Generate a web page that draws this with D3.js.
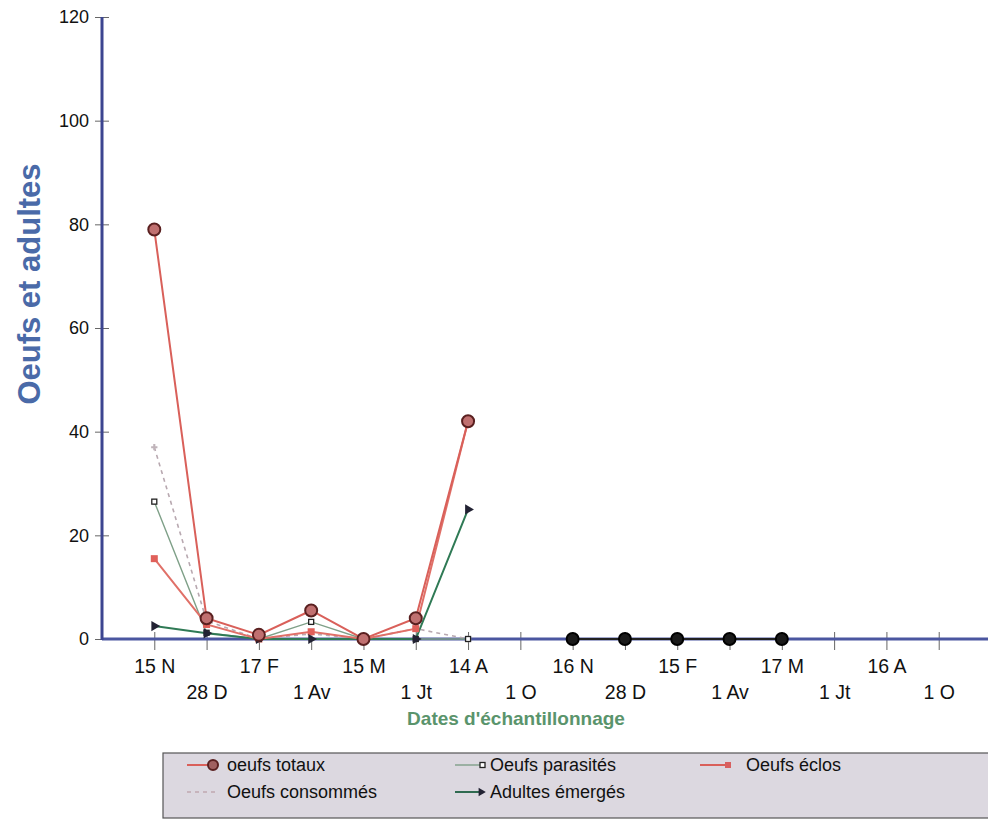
<!DOCTYPE html>
<html><head><meta charset="utf-8">
<script src="https://cdn.jsdelivr.net/npm/d3@7"></script>
<style>body{margin:0;background:#fff}svg{display:block;font-family:"Liberation Sans",Arial,sans-serif}</style>
</head><body><svg id="c" width="988" height="820"></svg>
<script>
const categories = ["15 N","28 D","17 F","1 Av","15 M","1 Jt","14 A","1 O","16 N","28 D","15 F","1 Av","17 M","1 Jt","16 A","1 O"];
const yTicks = [0,20,40,60,80,100,120];
const oeufsTotaux   = [79, 4, 0.8, 5.5, 0, 4, 42, null, 0, 0, 0, 0, 0, null, null, null];
const oeufsParasites = [26.5, 1.2, 0, 3.3, 0, 0, 0, null, null, null, null, null, null, null, null, null];
const oeufsEclos    = [15.5, 2.8, 0, 1.4, 0, 2, 42, null, null, null, null, null, null, null, null, null];
const oeufsConsommes = [37, 3.5, 0, 1, 0, 2, 0, null, null, null, null, null, null, null, null, null];
const adultesEmerges = [2.5, 1.1, 0, 0, 0, 0, 25, null, null, null, null, null, null, null, null, null];

const svg = d3.select("#c");
const x = d3.scalePoint().domain(d3.range(categories.length)).range([102, 991]).padding(1);
const y = d3.scaleLinear().domain([0,120]).range([639,17]);

// Y axis
const yAxis = svg.append("g").attr("transform","translate(102,0)")
  .call(d3.axisLeft(y).tickValues(yTicks).tickSize(7).tickPadding(4));
yAxis.select(".domain").remove();
yAxis.selectAll(".tick line").attr("x2",7).attr("x1",-7).attr("stroke","#666");
yAxis.selectAll(".tick text").attr("font-size",18).attr("fill","#111").attr("dx",-2);

// X axis
const xAxis = svg.append("g").attr("transform","translate(0,639)")
  .call(d3.axisBottom(x).tickSize(0).tickFormat(i=>categories[i]));
xAxis.select(".domain").remove();
xAxis.selectAll(".tick line").remove();
xAxis.selectAll(".tick").append("line").attr("y1",-7).attr("y2",11).attr("stroke","#666");
xAxis.selectAll(".tick text").attr("font-size",19.5).attr("fill","#111")
  .attr("y",(i)=> i%2===0 ? 20 : 46).attr("dy","0.71em");

svg.append("line").attr("x1",102).attr("x2",988).attr("y1",639).attr("y2",639)
  .attr("stroke","#4b56a0").attr("stroke-width",3);
svg.append("line").attr("x1",102).attr("x2",102).attr("y1",17).attr("y2",640)
  .attr("stroke","#3c4590").attr("stroke-width",3);

// Titles
svg.append("text").attr("transform","translate(40,284) rotate(-90)")
  .attr("text-anchor","middle").attr("font-size",31).attr("font-weight","bold")
  .attr("fill","#4a6aa8").text("Oeufs et adultes");
svg.append("text").attr("x",516).attr("y",725).attr("text-anchor","middle")
  .attr("font-size",19).attr("font-weight","bold").attr("fill","#5a946c")
  .text("Dates d'échantillonnage");

const line = d3.line().defined(d=>d.v!==null).x(d=>x(d.i)).y(d=>y(d.v));
const pts = arr => arr.map((v,i)=>({i,v}));
const g = svg.append("g");

// Oeufs consommés
g.append("path").attr("d",line(pts(oeufsConsommes))).attr("fill","none")
  .attr("stroke","#b8a8b0").attr("stroke-width",1.6).attr("stroke-dasharray","4,4");
// Oeufs parasités
g.append("path").attr("d",line(pts(oeufsParasites))).attr("fill","none")
  .attr("stroke","#7fa088").attr("stroke-width",1.4);
// Adultes émergés
g.append("path").attr("d",line(pts(adultesEmerges))).attr("fill","none")
  .attr("stroke","#2f7a55").attr("stroke-width",2);
// Oeufs éclos
g.append("path").attr("d",line(pts(oeufsEclos))).attr("fill","none")
  .attr("stroke","#e07068").attr("stroke-width",2);
// Oeufs totaux
const tot = pts(oeufsTotaux);
g.append("path").attr("d",line(tot.filter(d=>d.i<8))).attr("fill","none")
  .attr("stroke","#d9605a").attr("stroke-width",2);
g.append("path").attr("d",line(tot.filter(d=>d.i>=8))).attr("fill","none")
  .attr("stroke","#222").attr("stroke-width",2);

// markers
const def = arr => pts(arr).filter(d=>d.v!==null);
g.selectAll(".cons").data(def(oeufsConsommes)).enter().append("path")
  .attr("transform",d=>`translate(${x(d.i)},${y(d.v)})`)
  .attr("d",d3.symbol(d3.symbolCross,22)()).attr("fill","#c0b4ba");
g.selectAll(".ecl").data(def(oeufsEclos)).enter().append("rect")
  .attr("x",d=>x(d.i)-3.5).attr("y",d=>y(d.v)-3.5).attr("width",7).attr("height",7)
  .attr("fill","#e0605a");
g.selectAll(".par").data(def(oeufsParasites)).enter().append("rect")
  .attr("x",d=>x(d.i)-2.5).attr("y",d=>y(d.v)-2.5).attr("width",5).attr("height",5)
  .attr("fill","#fff").attr("stroke","#222").attr("stroke-width",1.3);
g.selectAll(".adu").data(def(adultesEmerges)).enter().append("path")
  .attr("transform",d=>`translate(${x(d.i)},${y(d.v)}) rotate(90)`)
  .attr("d",d3.symbol(d3.symbolTriangle,45)()).attr("fill","#223");
g.selectAll(".tot").data(def(oeufsTotaux)).enter().append("circle")
  .attr("cx",d=>x(d.i)).attr("cy",d=>y(d.v)).attr("r",6)
  .attr("fill",d=>d.i<8?"#c07070":"#1a1a1a").attr("stroke",d=>d.i<8?"#5a2020":"#000").attr("stroke-width",2);

// Legend
const lg = svg.append("g");
lg.append("rect").attr("x",163).attr("y",753).attr("width",830).attr("height",65)
  .attr("fill","#dcd8e0").attr("stroke","#555").attr("stroke-width",1.2);
const items = [
  {name:"oeufs totaux", x:187, y:765, kind:"tot"},
  {name:"Oeufs parasités", x:455, y:765, kind:"par"},
  {name:"Oeufs éclos", x:700, y:765, kind:"ecl"},
  {name:"Oeufs consommés", x:187, y:792, kind:"cons"},
  {name:"Adultes émergés", x:455, y:792, kind:"adu"}
];
items.forEach(it=>{
  const s = lg.append("g").attr("transform",`translate(${it.x},${it.y})`);
  if(it.kind==="tot"){
    s.append("line").attr("x1",0).attr("x2",24).attr("stroke","#d9605a").attr("stroke-width",2);
    s.append("circle").attr("cx",26).attr("r",5).attr("fill","#a06060").attr("stroke","#5a2020").attr("stroke-width",2);
  } else if(it.kind==="par"){
    s.append("line").attr("x1",0).attr("x2",25).attr("stroke","#7fa088").attr("stroke-width",1.4);
    s.append("rect").attr("x",25).attr("y",-2.5).attr("width",5).attr("height",5).attr("fill","#fff").attr("stroke","#222").attr("stroke-width",1.3);
  } else if(it.kind==="ecl"){
    s.append("line").attr("x1",0).attr("x2",27).attr("stroke","#d9605a").attr("stroke-width",2);
    s.append("rect").attr("x",25).attr("y",-3).attr("width",6).attr("height",6).attr("fill","#d86060");
  } else if(it.kind==="cons"){
    s.append("line").attr("x1",0).attr("x2",28).attr("stroke","#c0a8b0").attr("stroke-width",1.6).attr("stroke-dasharray","4,4");
  } else {
    s.append("line").attr("x1",0).attr("x2",24).attr("stroke","#2f6a50").attr("stroke-width",2);
    s.append("path").attr("transform","translate(26,0) rotate(90)").attr("d",d3.symbol(d3.symbolTriangle,30)()).attr("fill","#223");
  }
  lg.append("text").attr("x",it.kind==="ecl"?it.x+46:(it.x===187?227:490)).attr("y",it.y+6)
    .attr("font-size",18).attr("fill","#111").text(it.name);
});
</script></body></html>
